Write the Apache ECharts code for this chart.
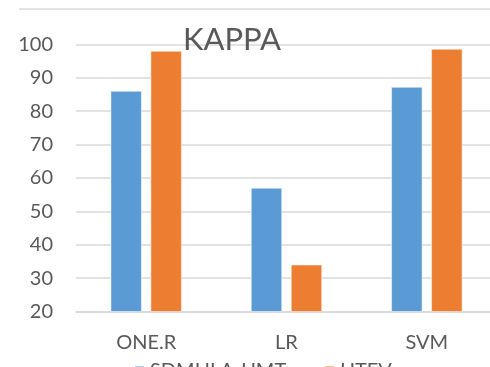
<!DOCTYPE html>
<html><head><meta charset="utf-8">
<script src="https://cdn.jsdelivr.net/npm/echarts@6/dist/echarts.min.js"></script>
<style>html,body{margin:0;padding:0;background:#fff;overflow:hidden}#c{width:490px;height:367px}</style>
</head><body><div id="c"></div>
<script>
const categories = ['ONE.R', 'LR', 'SVM'];
const seriesNames = ['SDMHLA-UMT', 'UTEV'];
const sdmhlaValues = [86, 57, 87.2];
const utevValues = [98, 34, 98.6];
const yTicks = {min: 20, max: 100, interval: 10};

const chart = echarts.init(document.getElementById('c'), null, {renderer: 'canvas'});
const font = 'Lato, "Liberation Sans", Arial, sans-serif';
chart.setOption({
  animation: false,
  backgroundColor: '#ffffff',
  title: {
    text: 'KAPPA', left: 227, top: 19, textAlign: 'center',
    textStyle: {fontFamily: font, fontSize: 31, fontWeight: 'normal', color: '#595959'}
  },
  graphic: [{
    type: 'line', shape: {x1: 19, y1: 9, x2: 490, y2: 9},
    style: {stroke: '#d9d9d9', lineWidth: 1.5}, silent: true
  }],
  legend: {
    left: 133, top: 359, itemWidth: 11, itemHeight: 11, itemGap: 37,
    icon: 'rect', padding: 0,
    textStyle: {fontFamily: font, fontSize: 20, lineHeight: 24, color: '#595959'},
    data: seriesNames
  },
  grid: {left: 76, width: 421, top: 44.3, height: 267.2, containLabel: false, outerBoundsMode: 'none'},
  xAxis: {
    type: 'category', data: categories,
    axisLine: {show: true, lineStyle: {color: '#d9d9d9', width: 1.5}},
    axisTick: {show: false},
    splitLine: {show: false},
    axisLabel: {fontFamily: font, fontSize: 20, color: '#595959', margin: 21}
  },
  yAxis: {
    type: 'value', min: yTicks.min, max: yTicks.max, interval: yTicks.interval,
    axisLine: {show: false}, axisTick: {show: false},
    splitLine: {lineStyle: {color: '#d9d9d9', width: 1.5}},
    axisLabel: {fontFamily: font, fontSize: 20, color: '#595959', margin: 23}
  },
  series: [
    {name: seriesNames[0], type: 'bar', data: sdmhlaValues, barWidth: 31, barGap: '29%',
     itemStyle: {color: '#5B9BD5', borderColor: '#ffffff', borderWidth: 0.5}},
    {name: seriesNames[1], type: 'bar', data: utevValues, barWidth: 31,
     itemStyle: {color: '#ED7D31', borderColor: '#ffffff', borderWidth: 0.5}}
  ]
});
</script></body></html>
